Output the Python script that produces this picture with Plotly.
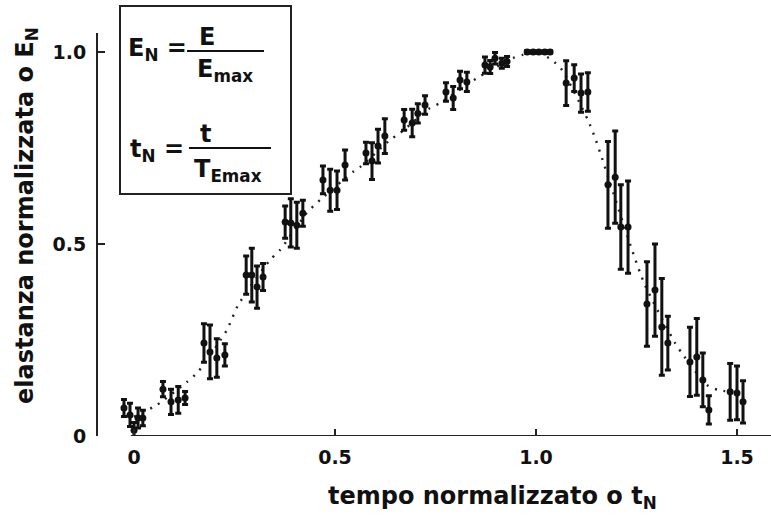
import plotly.graph_objects as go

# ---- data ----
pt_x = [-0.025, -0.010, 0.000, 0.010, 0.022, 0.072, 0.092, 0.110, 0.127,
        0.174, 0.189, 0.206, 0.226, 0.279, 0.293, 0.306, 0.321,
        0.376, 0.390, 0.405, 0.420, 0.470, 0.488, 0.505, 0.525,
        0.577, 0.592, 0.607, 0.624, 0.672, 0.692, 0.706, 0.724,
        0.776, 0.794, 0.811, 0.828, 0.873, 0.886, 0.898, 0.915, 0.928,
        0.978, 0.993, 1.007, 1.022, 1.035,
        1.075, 1.095, 1.112, 1.129, 1.179, 1.197, 1.211, 1.229,
        1.276, 1.296, 1.313, 1.328, 1.383, 1.400, 1.415, 1.430,
        1.483, 1.500, 1.515]
pt_y = [0.073, 0.055, 0.015, 0.047, 0.047, 0.122, 0.089, 0.094, 0.099,
        0.242, 0.219, 0.203, 0.211, 0.419, 0.419, 0.388, 0.414,
        0.557, 0.555, 0.549, 0.580, 0.667, 0.640, 0.640, 0.706,
        0.737, 0.716, 0.755, 0.781, 0.823, 0.815, 0.840, 0.862,
        0.896, 0.880, 0.927, 0.922, 0.966, 0.961, 0.984, 0.971, 0.975,
        1.000, 1.000, 1.000, 1.000, 1.000,
        0.919, 0.932, 0.893, 0.896, 0.654, 0.674, 0.544, 0.544,
        0.344, 0.380, 0.284, 0.242, 0.193, 0.206, 0.146, 0.068,
        0.115, 0.112, 0.089]
pt_err = [0.022, 0.030, 0.020, 0.026, 0.020, 0.020, 0.033, 0.035, 0.017,
          0.050, 0.070, 0.050, 0.029, 0.050, 0.070, 0.055, 0.035,
          0.042, 0.063, 0.060, 0.034, 0.036, 0.055, 0.050, 0.039,
          0.028, 0.048, 0.044, 0.045, 0.027, 0.036, 0.025, 0.024,
          0.024, 0.030, 0.023, 0.025, 0.021, 0.017, 0.015, 0.013, 0.013,
          0.003, 0.003, 0.003, 0.003, 0.003,
          0.058, 0.035, 0.050, 0.050, 0.113, 0.120, 0.110, 0.120,
          0.110, 0.120, 0.126, 0.070, 0.090, 0.100, 0.070, 0.037,
          0.074, 0.070, 0.055]

curve_x = [0.000, 0.057, 0.132, 0.159, 0.231, 0.259, 0.338, 0.363, 0.430,
           0.463, 0.545, 0.562, 0.637, 0.662, 0.736, 0.761, 0.853, 0.943,
           0.965, 1.000, 1.040, 1.065, 1.129, 1.147, 1.164, 1.239, 1.271,
           1.346, 1.366, 1.425, 1.453, 1.483]
curve_y = [0.050, 0.081, 0.141, 0.167, 0.276, 0.341, 0.458, 0.484, 0.581,
           0.615, 0.688, 0.700, 0.771, 0.789, 0.854, 0.867, 0.932, 0.984,
           0.992, 1.000, 0.979, 0.953, 0.823, 0.776, 0.724, 0.484, 0.393,
           0.242, 0.211, 0.133, 0.120, 0.115]

x_tickvals = [0, 0.5, 1.0, 1.5]
x_ticktext = ["0", "0.5", "1.0", "1.5"]
y_tickvals = [0, 0.5, 1.0]
y_ticktext = ["0", "0.5", "1.0"]

# ---- layout geometry (pixels) ----
W, H = 771, 517
L, R, T, B = 98, 0, 33, 81
PW, PH = W - L - R, H - T - B


def px(xp):
    return (xp - L) / PW


def py(yp):
    return (H - B - yp) / PH


FONT = "DejaVu Sans"
INK = "#111111"

fig = go.Figure()
fig.add_trace(go.Scatter(
    x=curve_x, y=curve_y, mode="lines",
    line=dict(color="#222222", width=2.4, dash="2px,7px", shape="spline", smoothing=0.6),
    hoverinfo="skip", showlegend=False))
fig.add_trace(go.Scatter(
    x=pt_x, y=pt_y, mode="markers",
    marker=dict(color="#111111", size=7),
    error_y=dict(type="data", array=pt_err, visible=True, color="#111111",
                 thickness=3, width=3),
    showlegend=False))

shapes = []
# x-axis line (detached from y axis)
shapes.append(dict(type="line", xref="x", yref="y", x0=-0.008, x1=1.6, y0=0, y1=0,
                   line=dict(color="#222222", width=2)))
# equation box
shapes.append(dict(type="rect", xref="paper", yref="paper",
                   x0=px(120), x1=px(291), y0=py(194), y1=py(6),
                   line=dict(color="#222222", width=2)))
# fraction bars
shapes.append(dict(type="line", xref="paper", yref="paper",
                   x0=px(187), x1=px(264), y0=py(51), y1=py(51),
                   line=dict(color="#111111", width=2)))
shapes.append(dict(type="line", xref="paper", yref="paper",
                   x0=px(189), x1=px(271), y0=py(148), y1=py(148),
                   line=dict(color="#111111", width=2)))

eqf = dict(family=FONT, size=24, color=INK, weight="bold")
ann = [
    dict(text="E<sub>N</sub> =", x=px(126), y=py(50), xanchor="left", yanchor="middle"),
    dict(text="E", x=px(207), y=py(37), xanchor="center", yanchor="middle"),
    dict(text="E<sub>max</sub>", x=px(225), y=py(70), xanchor="center", yanchor="middle"),
    dict(text="t<sub>N</sub> =", x=px(128), y=py(150), xanchor="left", yanchor="middle"),
    dict(text="t", x=px(205), y=py(134), xanchor="center", yanchor="middle"),
    dict(text="T<sub>Emax</sub>", x=px(228), y=py(170), xanchor="center", yanchor="middle"),
]
annotations = []
for a in ann:
    a.update(xref="paper", yref="paper", showarrow=False, font=eqf)
    annotations.append(a)

titlef = dict(family=FONT, size=24, color=INK, weight="bold")
annotations.append(dict(text="tempo normalizzato o t<sub>N</sub>", xref="paper", yref="paper",
                        x=px(492), y=py(497), xanchor="center", yanchor="middle",
                        showarrow=False, font=titlef))
annotations.append(dict(text="elastanza normalizzata o E<sub>N</sub>", xref="paper", yref="paper",
                        x=px(27), y=py(216), xanchor="center", yanchor="middle",
                        textangle=-90, showarrow=False, font=titlef))

tickf = dict(family=FONT, size=19, color=INK, weight="bold")
fig.update_layout(
    width=W, height=H,
    margin=dict(l=L, r=R, t=T, b=B, pad=0),
    paper_bgcolor="white", plot_bgcolor="white",
    shapes=shapes, annotations=annotations,
    xaxis=dict(range=[-0.0896, 1.5846], showgrid=False, zeroline=False, showline=False,
               tickvals=x_tickvals, ticktext=x_ticktext, ticks="inside", ticklen=7,
               tickwidth=2, tickcolor="#222222", tickfont=tickf, ticklabelstandoff=8),
    yaxis=dict(range=[0, 1.0495], showgrid=False, zeroline=False, showline=True,
               linecolor="#222222", linewidth=2,
               tickvals=y_tickvals, ticktext=y_ticktext, ticks="inside", ticklen=7,
               tickwidth=2, tickcolor="#222222", tickfont=tickf, ticklabelstandoff=6),
)

fig.write_html("out.html")
